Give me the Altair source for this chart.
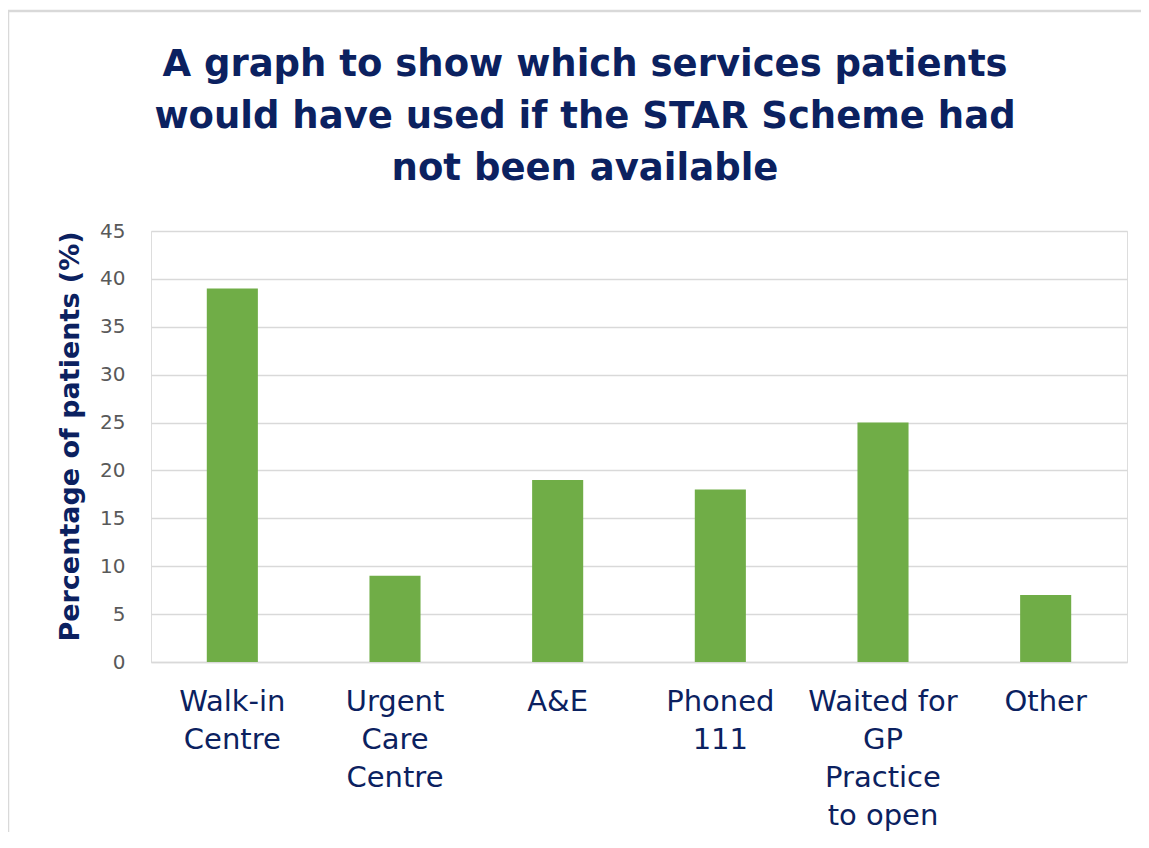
import altair as alt
import pandas as pd

categories = ["Walk-in Centre", "Urgent Care Centre", "A&E", "Phoned 111",
              "Waited for GP Practice to open", "Other"]
values = [39, 9, 19, 18, 25, 7]
label_lines = [["Walk-in", "Centre"], ["Urgent", "Care", "Centre"], ["A&E"],
               ["Phoned", "111"], ["Waited for", "GP", "Practice", "to open"], ["Other"]]
y_ticks = [0, 5, 10, 15, 20, 25, 30, 35, 40, 45]
title_lines = ["A graph to show which services patients",
               "would have used if the STAR Scheme had",
               "not been available"]
y_title = "Percentage of patients (%)"

NAVY = "#0B2160"
GREEN = "#70AD47"
GRID = "#D9D9D9"

df = pd.DataFrame({"service": categories, "pct": values})

expr = "datum.value"
for cat, lines in reversed(list(zip(categories, label_lines))):
    arr = "[" + ",".join("'" + l + "'" for l in lines) + "]"
    expr = f"datum.value == '{cat}' ? {arr} : ({expr})"

W, H = 976, 431

bars = alt.Chart(df).mark_bar(color=GREEN).encode(
    x=alt.X("service:N", sort=categories,
            scale=alt.Scale(paddingInner=0.686, paddingOuter=0.343),
            axis=alt.Axis(title=None, labelAngle=0, labelExpr=expr,
                          labelFont="DejaVu Sans", labelFontSize=29,
                          labelColor=NAVY, labelLineHeight=38,
                          labelPadding=25, ticks=False, domain=True,
                          domainColor=GRID, domainWidth=1.5, grid=False,
                          labelBaseline="top")),
    y=alt.Y("pct:Q", scale=alt.Scale(domain=[0, 45], nice=False),
            axis=alt.Axis(values=y_ticks, title=y_title, ticks=False, domain=False,
                          grid=True, gridColor=GRID, gridWidth=1.5,
                          labelFont="DejaVu Sans", labelFontSize=20,
                          labelColor="#595959", labelPadding=26,
                          titleFont="DejaVu Sans", titleFontSize=27,
                          titleFontWeight="bold", titleColor=NAVY,
                          titleAngle=270, titleX=-73, titleY=205,
                          titleAlign="center", titleBaseline="alphabetic")),
)

one = pd.DataFrame({"t": ["\n".join(title_lines)]})

title = alt.Chart(one).mark_text(
    font="DejaVu Sans", fontSize=37, fontWeight="bold", color=NAVY,
    lineBreak="\n", lineHeight=52, align="center", baseline="alphabetic"
).encode(text="t:N", x=alt.value(434), y=alt.value(-155))

frame_top = alt.Chart(one).mark_rule(color=GRID, strokeWidth=2.5).encode(
    x=alt.value(-143), x2=alt.value(1100), y=alt.value(-220)
)
frame_left = alt.Chart(one).mark_rule(color=GRID, strokeWidth=2.5).encode(
    x=alt.value(-143), y=alt.value(-221), y2=alt.value(800)
)

chart = alt.layer(frame_top, frame_left, bars, title).properties(
    width=W, height=H,
    padding={"left": 143, "top": 223, "right": 14, "bottom": 170},
    autosize=alt.AutoSizeParams(type="none"),
).configure_view(stroke=None).configure(background="white")

chart.save("out.html", embed_options={"renderer": "svg", "actions": False})
